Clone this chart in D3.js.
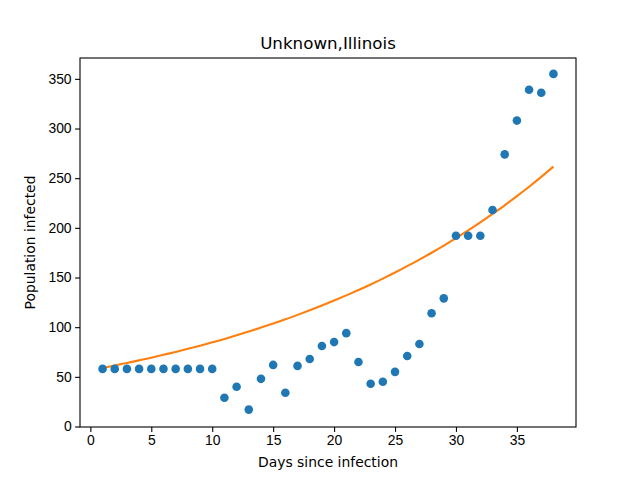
<!DOCTYPE html>
<html>
<head>
<meta charset="utf-8">
<script src="https://cdn.jsdelivr.net/npm/d3@7"></script>
<style>
  body { margin: 0; background: #fff; }
  svg { font-family: "DejaVu Sans", sans-serif; }
</style>
</head>
<body>
<div id="chart"></div>
<script>
// days since infection (x) and observed cases
const days = d3.range(1, 39);
const infected = [58, 58, 58, 58, 58, 58, 58, 58, 58, 58,
                  29, 40, 17, 48, 62, 34, 61, 68, 81, 85,
                  94, 65, 43, 45, 55, 71, 83, 114, 129, 192,
                  192, 192, 218, 274, 308, 339, 336, 355];
// fitted curve
const fitted = [59.0, 61.4, 64.0, 66.6, 69.3, 72.2, 75.1, 78.2, 81.4, 84.8,
                88.2, 91.9, 95.6, 99.6, 103.7, 107.9, 112.4, 117.0, 121.8, 126.8,
                132.0, 137.4, 143.0, 148.9, 155.0, 161.4, 168.0, 174.9, 182.1, 189.6,
                197.4, 205.5, 214.0, 222.7, 231.9, 241.4, 251.3, 261.7];
const xTicks = [0, 5, 10, 15, 20, 25, 30, 35];
const yTicks = [0, 50, 100, 150, 200, 250, 300, 350];

const W = 640, H = 480;
const margin = { top: 58, right: 64, bottom: 53, left: 80 };
const width = W - margin.left - margin.right;
const height = H - margin.top - margin.bottom;

const svg = d3.select("#chart").append("svg")
    .attr("width", W)
    .attr("height", H);

const g = svg.append("g")
    .attr("transform", `translate(${margin.left},${margin.top})`);

const x = d3.scaleLinear().domain([-0.85, 39.85]).range([0, width]);
const y = d3.scaleLinear().domain([-0.5, 371]).range([height, 0]);

// fit line
const line = d3.line()
    .x((d, i) => x(days[i]))
    .y(d => y(d))
    .curve(d3.curveMonotoneX);

g.append("path")
    .datum(fitted)
    .attr("fill", "none")
    .attr("stroke", "#ff7f0e")
    .attr("stroke-width", 2.1)
    .attr("d", line);

// observed points
g.selectAll("circle")
    .data(infected)
    .enter()
    .append("circle")
    .attr("cx", (d, i) => x(days[i]))
    .attr("cy", d => y(d))
    .attr("r", 4.3)
    .attr("fill", "#1f77b4");

// axes
const xAxis = g.append("g")
    .attr("transform", `translate(0,${height})`)
    .call(d3.axisBottom(x).tickValues(xTicks).tickSize(4.9).tickPadding(3.5));
const yAxis = g.append("g")
    .call(d3.axisLeft(y).tickValues(yTicks).tickSize(4.9).tickPadding(3.5));

[xAxis, yAxis].forEach(a => {
  a.selectAll("text").style("font-size", "13.9px").attr("fill", "#000");
  a.selectAll("line").attr("stroke", "#000").attr("stroke-width", 1.1);
  a.select(".domain").remove();
});

// frame
g.append("rect")
    .attr("width", width)
    .attr("height", height)
    .attr("fill", "none")
    .attr("stroke", "#000")
    .attr("stroke-width", 1.1);

// labels
svg.append("text")
    .attr("x", margin.left + width / 2)
    .attr("y", 49)
    .attr("text-anchor", "middle")
    .style("font-size", "16.7px")
    .text("Unknown,Illinois");

svg.append("text")
    .attr("x", margin.left + width / 2)
    .attr("y", 467)
    .attr("text-anchor", "middle")
    .style("font-size", "13.9px")
    .text("Days since infection");

svg.append("text")
    .attr("transform", `translate(35,${margin.top + height / 2}) rotate(-90)`)
    .attr("text-anchor", "middle")
    .style("font-size", "13.9px")
    .text("Population infected");
</script>
</body>
</html>
